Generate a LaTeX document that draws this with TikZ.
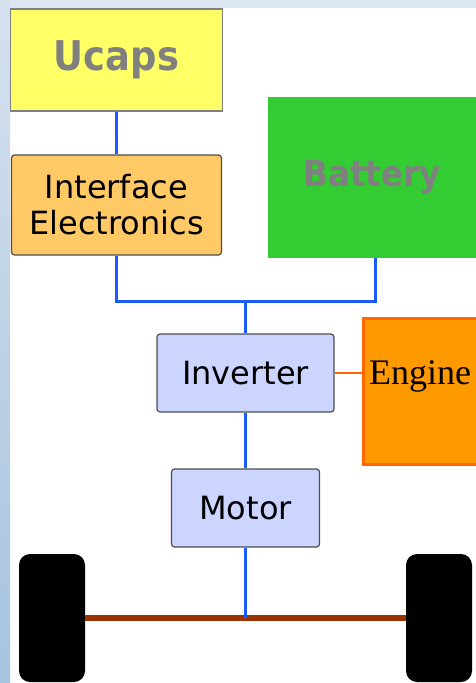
\documentclass[tikz,border=0pt]{standalone}
\usepackage{fontspec}
\setmainfont{DejaVu Sans}
\newfontfamily\condfont[FakeStretch=0.9]{DejaVu Sans}
\newfontfamily\engfont{Liberation Serif}
\definecolor{bgtop}{HTML}{DCE6F0}
\definecolor{bgleft}{HTML}{D6E1EE}
\definecolor{bgbot}{HTML}{A6C3DF}
\definecolor{ucapfill}{HTML}{FFFF66}
\definecolor{ifacefill}{HTML}{FFC966}
\definecolor{blockfill}{HTML}{CCD5FF}
\definecolor{battfill}{HTML}{33CC33}
\definecolor{engfill}{HTML}{FF9900}
\definecolor{engdraw}{HTML}{FF6600}
\definecolor{busblue}{HTML}{1A5CFF}
\definecolor{axlebrown}{HTML}{993300}
\definecolor{titlegray}{HTML}{808080}
\definecolor{boxedge}{HTML}{4D4D4D}
\begin{document}
\begin{tikzpicture}[x=1pt,y=-1pt,
  blockbox/.style={draw=boxedge,line width=1.2pt,rounded corners=3pt,fill=blockfill,
    inner sep=0pt,align=center,font=\fontsize{32}{36}\selectfont},
  bus/.style={draw=busblue,line width=3pt},
  wheel/.style={fill=black,draw=none,rounded corners=11pt,inner sep=0pt,minimum width=66pt,minimum height=128pt}]
\useasboundingbox (0,0) rectangle (476,683);
\fill[white] (0,0) rectangle (476,683);
\fill[bgtop] (0,0) rectangle (476,8);
\shade[top color=bgleft,bottom color=bgbot] (0,0) rectangle (10,683);
% boxes
\node[draw=titlegray,line width=1.5pt,fill=ucapfill,inner sep=0pt,minimum width=212pt,minimum height=102pt,
  text=titlegray,font=\condfont\bfseries\fontsize{41}{44}\selectfont] (ucaps) at (116.5,60) {Ucaps};
\node[blockbox,fill=ifacefill,minimum width=210pt,minimum height=100pt] (iface) at (116.5,205) {Interface\\Electronics};
\node[fill=battfill,inner sep=0pt,minimum width=208pt,minimum height=161pt,
  text=titlegray,font=\condfont\bfseries\fontsize{36}{40}\selectfont] (battery) at (372,177.5) {Battery};
\node[blockbox,minimum width=177pt,minimum height=78pt] (inv) at (245.5,373) {Inverter};
\node[draw=engdraw,line width=3pt,fill=engfill,inner sep=0pt,minimum width=116pt,minimum height=146pt] (engine) at (421,391) {};
\node[anchor=base west,inner sep=0pt,font=\engfont\fontsize{36}{40}\selectfont] (engtext) at (369,384) {Engine};
\node[blockbox,minimum width=148pt,minimum height=78pt] (motor) at (245.5,508) {Motor};
\node[wheel] (lwheel) at (52,618) {};
\node[wheel] (rwheel) at (439,618) {};
% connectors
\coordinate (j) at (245.5,301);
\coordinate (bt) at ([xshift=3pt]battery.south);
\draw[bus] (ucaps.south) -- (iface.north);
\draw[bus] (iface.south) |- (j) -| (bt);
\draw[bus] (j) -- (inv.north);
\draw[bus] (inv.south) -- (motor.north);
\draw[draw=engdraw,line width=2pt] (inv.east) -- (engine.west |- inv.east);
\draw[draw=axlebrown,line width=6pt] (lwheel.east) -- (rwheel.west);
\draw[bus] (motor.south) -- (motor.south |- lwheel.center);
\end{tikzpicture}
\end{document}
